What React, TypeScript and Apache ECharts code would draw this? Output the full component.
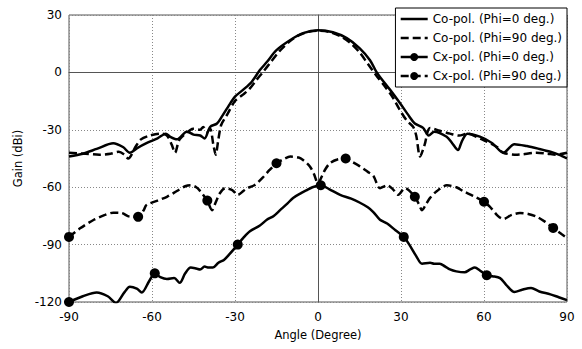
import React, { useEffect, useRef } from "react";
import * as echarts from "echarts";

const seriesNames = [
  "Co-pol. (Phi=0 deg.)",
  "Co-pol. (Phi=90 deg.)",
  "Cx-pol. (Phi=0 deg.)",
  "Cx-pol. (Phi=90 deg.)",
];

const xTicks = [-90, -60, -30, 0, 30, 60, 90];
const yTicks = [-120, -90, -60, -30, 0, 30];

const coPol0: [number, number][] = [
  [-90, -44], [-85, -42.5], [-80, -40], [-74, -37], [-70.5, -39], [-68, -42], [-65.5, -39.7],
  [-62, -37], [-58, -34.5], [-55, -32], [-53.5, -33.6], [-51, -35], [-47.4, -31], [-45, -32.5],
  [-42.6, -33], [-41, -34.5], [-39, -28.5], [-36.5, -26.7], [-34.7, -23], [-32.5, -18],
  [-30, -12.7], [-27, -9], [-24, -5], [-21, 1.2], [-18.5, 5.4], [-15, 11.6], [-10, 16.9],
  [-5.4, 20.5], [0, 22], [5.4, 21], [10.4, 17.9], [15, 12.7], [18.8, 6.4], [21, 0.5],
  [22.4, -2.4], [26, -9], [29.6, -16], [33, -23], [35, -26.7], [38, -29], [40, -33], [42, -31],
  [46.5, -33.6], [48.5, -37], [50.6, -40.6], [52, -36], [54, -32], [58.5, -33.6], [63, -37],
  [67, -42], [71, -37.5], [75.5, -38.5], [80, -40], [84, -41.5], [87, -43], [90, -45],
];

const coPol90: [number, number][] = [
  [-90, -42], [-84, -42.5], [-79, -43], [-75, -42.5], [-72, -41.5], [-70, -43], [-68.6, -45],
  [-66, -39], [-64, -35], [-60.7, -33], [-57, -32], [-54.6, -33], [-52.8, -38], [-51.7, -42],
  [-50, -35], [-46, -30], [-45, -29.5], [-42.6, -30], [-41.5, -28.5], [-40, -31], [-39, -29.5],
  [-37.8, -38], [-37, -43], [-36, -35], [-35, -27.5], [-33, -22.5], [-30, -15], [-27, -11.5],
  [-25, -9], [-22, -3.5], [-20, 0], [-17, 5.5], [-14, 11], [-10, 16.5], [-7, 19.3], [-4, 21],
  [0, 21.8], [4, 21.2], [8, 19], [12, 15], [15, 10.5], [18, 4.5], [21, -1.5], [24, -7],
  [27, -13], [29.6, -19.7], [32, -25], [34.4, -28.5], [35.5, -33], [36.9, -44], [38.5, -38],
  [40.5, -29], [44, -30.5], [47.7, -32], [51, -33], [54, -32], [57, -33.5], [60, -35.5],
  [64.7, -39], [67, -42], [72, -43], [79, -42], [83, -42.5], [86, -43], [90, -42],
];

const cxPol0: [number, number][] = [
  [-90, -120], [-85, -117], [-80, -115], [-76, -117], [-73, -120.5], [-70, -115], [-68, -112],
  [-65.5, -113], [-63.7, -115], [-61, -109], [-59, -105], [-57, -107], [-54.6, -108],
  [-52, -107.5], [-50, -110], [-48, -105], [-46, -102], [-44, -102.5], [-42.6, -103],
  [-41, -101.5], [-39.5, -102], [-38, -102], [-36, -99.5], [-34, -98], [-32, -95], [-29, -90],
  [-27, -86.5], [-24.6, -83], [-21, -80], [-18.5, -77], [-16, -75], [-13.7, -72], [-11, -68.5],
  [-9, -65.6], [-6, -63], [-4, -61.5], [-2, -60], [1, -59], [4, -61], [8, -64], [12, -66],
  [15, -68], [18, -70.5], [20, -73], [22.4, -77], [25, -79], [28, -82.5], [31, -86], [33, -90],
  [35.5, -96], [37.6, -100], [40.5, -99.5], [42, -100], [44, -100], [46, -101.5], [47.7, -103],
  [50, -104], [53, -104.5], [55, -103], [56.7, -102], [58.5, -103.5], [61, -106], [63, -106.5],
  [65.8, -107.5], [68, -111], [71, -114.8], [74, -113.5], [77, -112.7], [80, -114.5],
  [84, -116], [87, -117.5], [90, -119],
];

const cxPol90: [number, number][] = [
  [-90, -86], [-86, -81.5], [-81, -77], [-77, -74.5], [-74, -73.3], [-71, -73.5], [-68, -75.4],
  [-65, -75.5], [-63, -72], [-62, -69.3], [-58, -67], [-54.6, -65], [-51, -62], [-48, -59.5],
  [-46, -59], [-44, -60], [-42.6, -62], [-41, -65], [-40, -67], [-38.3, -72], [-37, -68],
  [-35.4, -63], [-33.5, -60.5], [-31, -61.5], [-29, -64], [-27, -62], [-25.7, -60.5],
  [-23, -59], [-20, -55], [-17.5, -51], [-15, -47.5], [-12, -45], [-10, -44], [-7, -44.5],
  [-5.4, -45.8], [-3, -49], [-1.5, -53], [0, -58], [1.5, -54], [2.5, -51], [4.3, -47.5],
  [7, -45.5], [10, -45], [12, -46.5], [15, -49], [18, -52], [20, -54], [22.4, -60.5], [25, -59],
  [27, -61], [29, -64], [31.4, -60.5], [35, -65], [36.5, -69], [37.6, -72], [39, -69],
  [40.5, -65.6], [43, -62], [46.6, -59], [50, -60], [52.4, -62], [56, -64.5], [60, -67.6],
  [62, -70], [65, -75], [67, -76.6], [70, -74.5], [73, -73.5], [76, -74], [79, -75.4],
  [82, -78], [85, -81.3], [88, -84.5], [90, -86.5],
];

const cxPol0Markers = [-90, -59, -29, 1, 31, 61];
const cxPol90Markers = [-90, -65, -40, -15, 10, 35, 60, 85];

const FONT = "DejaVu Sans";

function withMarkers(points: [number, number][], markers: number[]) {
  return points.map((p) =>
    markers.includes(p[0]) ? { value: p } : { value: p, symbol: "none" }
  );
}

export default function App() {
  const ref = useRef<HTMLDivElement>(null);
  useEffect(() => {
    if (!ref.current) return;
    const chart = echarts.init(ref.current, null, { renderer: "svg" });
    const dashed = [8, 4];
    chart.setOption({
      animation: false,
      textStyle: { fontFamily: FONT },
      grid: {
        left: 69,
        right: 15,
        top: 15,
        bottom: 47,
        show: true,
        borderColor: "#555",
        borderWidth: 1,
      },
      legend: {
        orient: "vertical",
        right: 15,
        top: 8,
        data: [
          { name: seriesNames[0], itemStyle: { opacity: 0 } },
          { name: seriesNames[1], itemStyle: { opacity: 0 } },
          { name: seriesNames[2] },
          { name: seriesNames[3] },
        ],
        backgroundColor: "#fff",
        borderColor: "#000",
        borderWidth: 1,
        borderRadius: 0,
        padding: [4, 5, 4, 4],
        itemWidth: 27,
        itemHeight: 10,
        itemGap: 5,
        lineStyle: { width: 2.5 },
        textStyle: { fontFamily: FONT, fontSize: 12, lineHeight: 14, color: "#000" },
      },
      xAxis: {
        type: "value",
        min: -90,
        max: 90,
        interval: 30,
        name: "Angle (Degree)",
        nameLocation: "middle",
        nameGap: 27,
        nameTextStyle: { fontFamily: FONT, fontSize: 11.5, color: "#000" },
        axisLine: { show: true, lineStyle: { color: "#555" } },
        axisTick: { show: false },
        axisLabel: {
          fontFamily: FONT,
          fontSize: 12,
          color: "#000",
          margin: 9,
          formatter: (v: number) => (xTicks.includes(v) ? String(v) : ""),
        },
        splitLine: { show: true, lineStyle: { color: "#888", type: [1, 2], width: 1 } },
      },
      yAxis: {
        type: "value",
        min: -120,
        max: 30,
        interval: 30,
        name: "Gain (dBi)",
        nameLocation: "middle",
        nameGap: 43,
        nameTextStyle: { fontFamily: FONT, fontSize: 11.5, color: "#000" },
        axisLine: { show: true, lineStyle: { color: "#555" } },
        axisTick: { show: false },
        axisLabel: {
          fontFamily: FONT,
          fontSize: 12,
          color: "#000",
          margin: 7,
          formatter: (v: number) => (yTicks.includes(v) ? String(v) : ""),
        },
        splitLine: { show: true, lineStyle: { color: "#888", type: [1, 2], width: 1 } },
      },
      series: [
        {
          name: seriesNames[0],
          type: "line",
          data: coPol0,
          symbol: "none",
          smooth: 0.3,
          lineStyle: { color: "#000", width: 2.5, type: "solid" },
          itemStyle: { color: "#000" },
        },
        {
          name: seriesNames[1],
          type: "line",
          data: coPol90,
          symbol: "none",
          smooth: 0.3,
          lineStyle: { color: "#000", width: 2.5, type: dashed },
          itemStyle: { color: "#000" },
        },
        {
          name: seriesNames[2],
          type: "line",
          data: withMarkers(cxPol0, cxPol0Markers),
          symbol: "circle",
          symbolSize: 10,
          showSymbol: true,
          smooth: 0.3,
          lineStyle: { color: "#000", width: 2.5, type: "solid" },
          itemStyle: { color: "#000" },
        },
        {
          name: seriesNames[3],
          type: "line",
          data: withMarkers(cxPol90, cxPol90Markers),
          symbol: "circle",
          symbolSize: 10,
          showSymbol: true,
          smooth: 0.3,
          lineStyle: { color: "#000", width: 2.5, type: dashed },
          itemStyle: { color: "#000" },
        },
      ],
    });
    return () => chart.dispose();
  }, []);
  return (
    <div
      ref={ref}
      style={{ position: "absolute", left: 0, top: 0, width: 582, height: 349 }}
    />
  );
}
